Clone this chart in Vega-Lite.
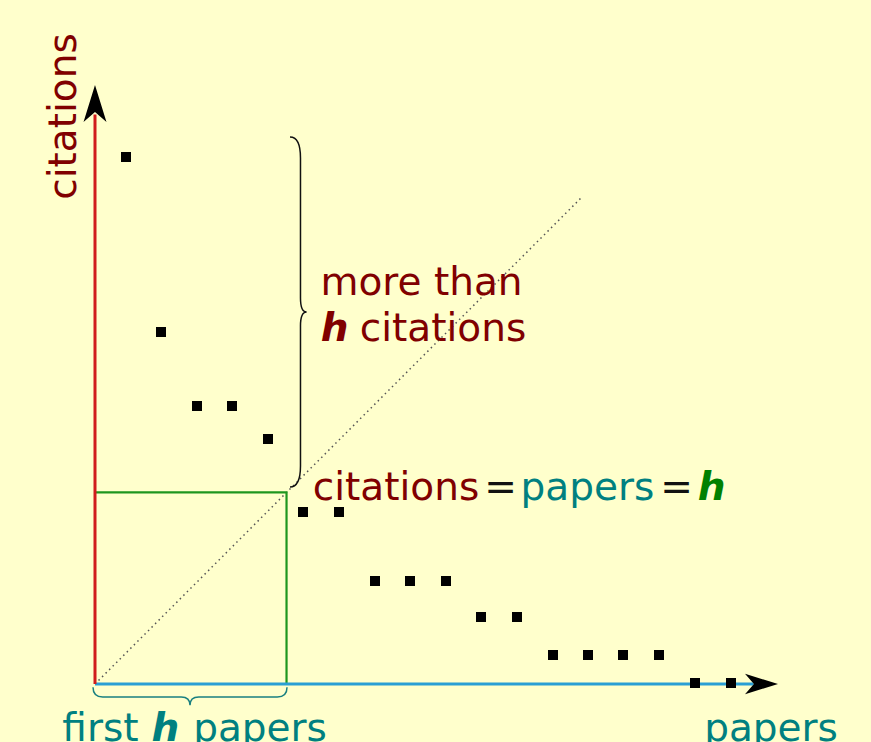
{
  "$schema": "https://vega.github.io/schema/vega-lite/v6.json",
  "width": 871,
  "height": 742,
  "autosize": {"type": "none"},
  "padding": 0,
  "background": "#ffffcc",
  "config": {"view": {"stroke": null}},
  "datasets": {
    "points": [
      {"x": 0.871, "y": 14.803}, {"x": 1.854, "y": 9.888}, {"x": 2.865, "y": 7.809}, {"x": 3.848, "y": 7.809},
      {"x": 4.860, "y": 6.882}, {"x": 5.843, "y": 4.831}, {"x": 6.854, "y": 4.831}, {"x": 7.865, "y": 2.893},
      {"x": 8.848, "y": 2.893}, {"x": 9.860, "y": 2.893}, {"x": 10.843, "y": 1.882}, {"x": 11.854, "y": 1.882},
      {"x": 12.865, "y": 0.815}, {"x": 13.848, "y": 0.815}, {"x": 14.831, "y": 0.815}, {"x": 15.843, "y": 0.815},
      {"x": 16.854, "y": 0.028}, {"x": 17.865, "y": 0.028}
    ],
    "axisY": [{"i": 0, "x": 0, "y": 0}, {"i": 1, "x": 0, "y": 16.0}],
    "axisX": [{"i": 0, "x": 0, "y": 0}, {"i": 1, "x": 18.5, "y": 0}],
    "hbox": [{"i": 0, "x": 0, "y": 5.38}, {"i": 1, "x": 5.38, "y": 5.38}, {"i": 2, "x": 5.38, "y": 0}],
    "diag": [{"i": 0, "x": 0, "y": 0}, {"i": 1, "x": 13.68, "y": 13.68}],
    "labels": [
      {"label": "more than", "topic": "citations", "x": 9.171, "y": 10.927},
      {"label": "h", "topic": "citations", "x": 6.728, "y": 9.635},
      {"label": "citations", "topic": "citations", "x": 9.775, "y": 9.635},
      {"label": "citations", "topic": "citations", "x": 8.455, "y": 5.169},
      {"label": "=", "topic": "equals", "x": 11.39, "y": 5.169},
      {"label": "papers", "topic": "papers", "x": 13.834, "y": 5.169},
      {"label": "=", "topic": "equals", "x": 16.334, "y": 5.169},
      {"label": "h", "topic": "h", "x": 17.32, "y": 5.169},
      {"label": "first", "topic": "papers", "x": 0.154, "y": -1.601},
      {"label": "h", "topic": "papers", "x": 1.98, "y": -1.601},
      {"label": "papers", "topic": "papers", "x": 4.635, "y": -1.601},
      {"label": "papers", "topic": "papers", "x": 18.989, "y": -1.601}
    ]
  },
  "encoding": {
    "x": {"field": "x", "type": "quantitative", "axis": null, "scale": {"domain": [-2.6685, 21.7978], "zero": false, "nice": false}},
    "y": {"field": "y", "type": "quantitative", "axis": null, "scale": {"domain": [-1.6292, 19.2135], "zero": false, "nice": false}}
  },
  "layer": [
    {
      "data": {"name": "diag"},
      "mark": {"type": "line", "color": "#555555", "strokeWidth": 1.5, "strokeDash": [1.5, 3.5]},
      "encoding": {"order": {"field": "i"}}
    },
    {
      "data": {"name": "hbox"},
      "mark": {"type": "line", "color": "#1e961e", "strokeWidth": 2.2},
      "encoding": {"order": {"field": "i"}}
    },
    {
      "data": {"name": "axisX"},
      "mark": {"type": "line", "color": "#2a9fd4", "strokeWidth": 3},
      "encoding": {"order": {"field": "i"}}
    },
    {
      "data": {"name": "axisY"},
      "mark": {"type": "line", "color": "#d01c1c", "strokeWidth": 3},
      "encoding": {"order": {"field": "i"}}
    },
    {
      "data": {"values": [{"x": 0, "y": 16.306}]},
      "mark": {"type": "point", "shape": "M0,-1 L0.62,1 L0,0.46 L-0.62,1 Z", "size": 1369, "filled": true, "color": "#000000", "opacity": 1, "angle": 0}
    },
    {
      "data": {"values": [{"x": 18.722, "y": 0}]},
      "mark": {"type": "point", "shape": "M0,-1 L0.62,1 L0,0.46 L-0.62,1 Z", "size": 1089, "filled": true, "color": "#000000", "opacity": 1, "angle": 90}
    },
    {
      "data": {"values": [{"x": 5.772, "y": 10.449}]},
      "mark": {"type": "point", "shape": "M-0.06,-1 C-0.02,-1 0,-0.96 0,-0.88 L0,-0.08 C0,-0.03 0.01,0 0.035,0 C0.01,0 0,0.03 0,0.08 L0,0.88 C0,0.96 -0.02,1 -0.06,1", "size": 122500, "filled": false, "stroke": "#111111", "strokeWidth": 1.5, "opacity": 1}
    },
    {
      "data": {"values": [{"x": 2.669, "y": -0.365}]},
      "mark": {"type": "point", "shape": "M-1,-0.1 C-1,-0.03 -0.97,0 -0.9,0 L-0.09,0 C-0.03,0 0,0.03 0,0.085 C0,0.03 0.03,0 0.09,0 L0.9,0 C0.97,0 1,-0.03 1,-0.1", "size": 37636, "filled": false, "stroke": "#1a8080", "strokeWidth": 1.5, "opacity": 1}
    },
    {
      "data": {"name": "points"},
      "mark": {"type": "point", "shape": "square", "size": 100, "filled": true, "color": "#000000", "opacity": 1}
    },
    {
      "data": {"name": "labels"},
      "transform": [{"filter": "datum.label !== 'h'"}],
      "mark": {"type": "text", "font": "DejaVu Sans", "fontSize": 39, "align": "center", "baseline": "alphabetic"},
      "encoding": {
        "text": {"field": "label"},
        "color": {"field": "topic", "type": "nominal", "legend": null, "scale": {"domain": ["citations", "papers", "h", "equals"], "range": ["#800000", "#008080", "#008000", "#111111"]}}
      }
    },
    {
      "data": {"name": "labels"},
      "transform": [{"filter": "datum.label === 'h'"}],
      "mark": {"type": "text", "font": "DejaVu Sans", "fontSize": 39, "fontWeight": "bold", "fontStyle": "italic", "align": "center", "baseline": "alphabetic"},
      "encoding": {
        "text": {"field": "label"},
        "color": {"field": "topic", "type": "nominal", "legend": null}
      }
    },
    {
      "data": {"values": [{"label": "citations", "topic": "citations", "x": -0.534, "y": 15.941}]},
      "mark": {"type": "text", "font": "DejaVu Sans", "fontSize": 39, "align": "center", "baseline": "alphabetic", "angle": 270},
      "encoding": {
        "text": {"field": "label"},
        "color": {"field": "topic", "type": "nominal", "legend": null}
      }
    }
  ]
}
